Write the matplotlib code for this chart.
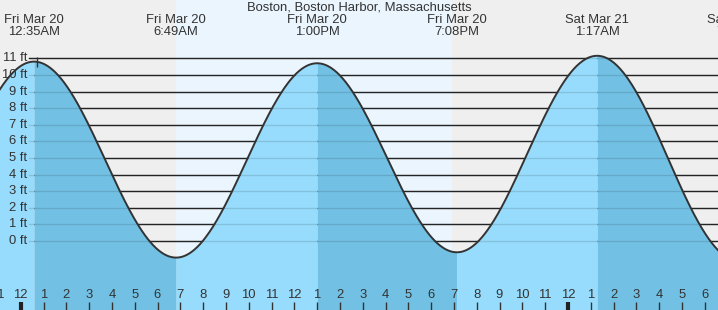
import numpy as np
import matplotlib
matplotlib.use("Agg")
import matplotlib.pyplot as plt
import matplotlib.transforms as mtransforms

# ---- data (hours since Fri Mar 20 00:00) ----
title = "Boston, Boston Harbor, Massachusetts"
extreme_hours = [-5.4, 0.583, 6.817, 13.0, 19.133, 25.283, 31.5]
extreme_heights = [-0.6, 10.8, -1.0, 10.7, -0.68, 11.15, -1.2]
extreme_dates = ["Thu Mar 19", "Fri Mar 20", "Fri Mar 20", "Fri Mar 20", "Fri Mar 20", "Sat Mar 21", "Sat Mar 21"]
extreme_times = ["6:36PM", "12:35AM", "6:49AM", "1:00PM", "7:08PM", "1:17AM", "7:30AM"]
sunrise_hour = 6.81
sunset_hour = 18.93
now_hour = 0.73
y_levels = list(range(0, 12))
y_labels = [f"{v} ft" for v in y_levels]
hour_ticks = list(range(-1, 32))
hour_labels = [str((h % 12) or 12) for h in hour_ticks]

# ---- layout ----
W, H = 718, 310
px_per_hour = 22.8
x0_px = 20.7          # pixel of midnight Mar 20
ft_px = 16.61
zero_px = 241.0       # pixel row of 0 ft
FS = 9.4

plt.rcParams['font.family'] = ['Liberation Sans', 'DejaVu Sans']
fig = plt.figure(figsize=(W / 100, H / 100), dpi=100)
ax = fig.add_axes([0, 0, 1, 1])
xmin = (0 - x0_px) / px_per_hour
xmax = (W - x0_px) / px_per_hour
ymax = zero_px / ft_px
ymin = (zero_px - H) / ft_px
ax.set_xlim(xmin, xmax)
ax.set_ylim(ymin, ymax)
ax.axis('off')

night = '#efefef'
day = '#eaf5fe'
light_water = '#97dcfc'
dark_water = '#72c1e4'
txt = '#333333'

ax.axvspan(xmin, xmax, color=night, zorder=0, lw=0)
ax.axvspan(sunrise_hour, sunset_hour, color=day, zorder=0.5, lw=0)

# grid lines (behind water)
for lv in y_levels:
    ax.axhline(lv, xmin=29 / W, xmax=1, color='#2a2a2a', lw=1, zorder=1)

# tide curve: cosine between extremes
t_all = []
h_all = []
for i in range(len(extreme_hours) - 1):
    t0, t1 = extreme_hours[i], extreme_hours[i + 1]
    h0, h1 = extreme_heights[i], extreme_heights[i + 1]
    t = np.linspace(t0, t1, 200)
    hh = h0 + (h1 - h0) * (1 - np.cos(np.pi * (t - t0) / (t1 - t0))) / 2
    col = light_water if h1 > h0 else dark_water
    ax.fill_between(t, ymin, hh, color=col, lw=0, zorder=2)
    t_all.append(t)
    h_all.append(hh)
t_all = np.concatenate(t_all)
h_all = np.concatenate(h_all)

# grid lines seen through water
for lv in y_levels:
    ax.axhline(lv, xmin=29 / W, xmax=1, color='#000000', alpha=0.12, lw=1, zorder=3)

ax.plot(t_all, h_all, color='#333333', lw=1.4, zorder=4)

# now marker
ax.vlines(now_hour, 10.45, 11.05, color='#333333', lw=1, zorder=5)

# y labels
ytrans = mtransforms.blended_transform_factory(ax.transAxes, ax.transData)
for lv, lab in zip(y_levels, y_labels):
    ax.text(27 / W, lv, lab, transform=ytrans,
            ha='right', va='center', fontsize=FS, color=txt, zorder=6)

# hour ticks and labels
trans = mtransforms.blended_transform_factory(ax.transData, ax.transAxes)
for h, lab in zip(hour_ticks, hour_labels):
    mid = (h % 24 == 0)
    ax.plot([h, h], [0, 8 / H], transform=trans, color='#222222' if mid else '#333333',
            lw=3 if mid else 1, zorder=6, solid_capstyle='butt', clip_on=False)
    ax.text(h, (H - 295) / H, lab, transform=trans, ha='center', va='center',
            fontsize=FS, color=txt, zorder=6)

# top labels
ax.text(0.5, 1 - 7.5 / H, title, transform=ax.transAxes, ha='center', va='center',
        fontsize=FS, color=txt, zorder=6)
for hr, d, tm in zip(extreme_hours, extreme_dates, extreme_times):
    ax.text(hr, 1 - 20 / H, d, transform=trans, ha='center', va='center', fontsize=FS, color=txt, zorder=6)
    ax.text(hr, 1 - 32 / H, tm, transform=trans, ha='center', va='center', fontsize=FS, color=txt, zorder=6)

fig.savefig('out.png', dpi=100)
